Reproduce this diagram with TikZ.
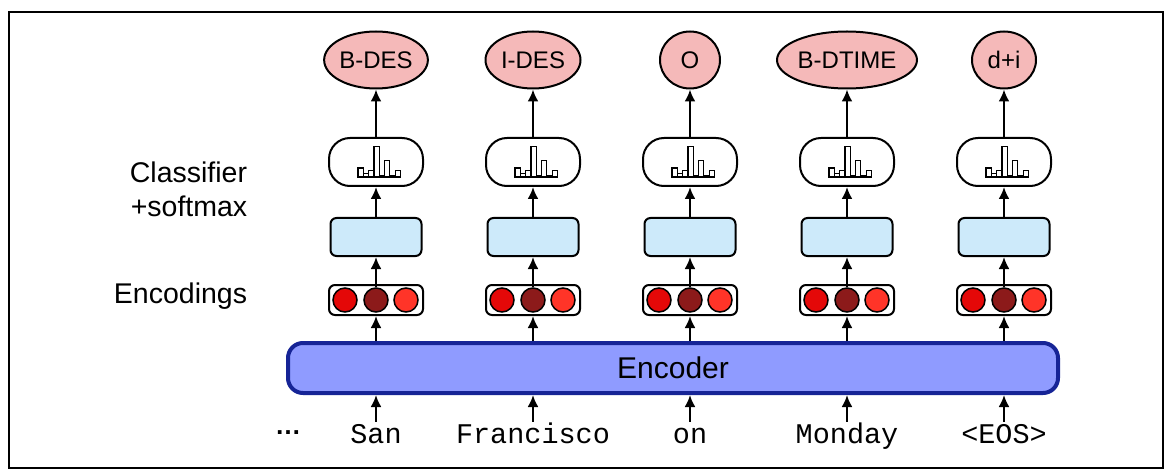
\documentclass[tikz,border=0pt]{standalone}
\usepackage{fontspec}
\setmainfont{Liberation Sans}
\setmonofont{Liberation Mono}
\usetikzlibrary{arrows.meta,shapes.geometric}
\definecolor{tagpink}{RGB}{245,185,185}
\definecolor{clsblue}{RGB}{205,234,250}
\definecolor{encfill}{RGB}{143,155,255}
\definecolor{encline}{RGB}{22,36,150}
\definecolor{dotA}{RGB}{228,8,8}
\definecolor{dotB}{RGB}{140,26,26}
\definecolor{dotC}{RGB}{255,52,40}
\tikzset{
  arr/.style={line width=2.2pt,-{Latex[length=12pt,width=11pt]}},
  tagnode/.style={ellipse,draw,line width=2pt,fill=tagpink,minimum height=57pt,inner sep=0pt,font=\fontsize{24}{28}\selectfont},
  pillnode/.style={draw,line width=2pt,fill=white,rounded corners=21pt,minimum width=94pt,minimum height=48pt,inner sep=0pt},
  clsnode/.style={draw,line width=2pt,fill=clsblue,rounded corners=6pt,minimum width=91pt,minimum height=38pt,inner sep=0pt},
  encbox/.style={draw,line width=2pt,fill=white,rounded corners=6pt,minimum width=94pt,minimum height=30pt,inner sep=0pt},
  dotnode/.style={circle,draw,line width=1.5pt,minimum size=24pt,inner sep=0pt},
  barline/.style={line width=1.2pt,fill=white},
  wordnode/.style={font=\ttfamily\fontsize{28.5}{30}\selectfont,anchor=base,inner sep=0pt,text height=21pt,text depth=6pt},
  sidelabel/.style={font=\fontsize{28.5}{32}\selectfont,anchor=base,inner sep=0pt},
  encodernode/.style={draw=encline,line width=4pt,fill=encfill,rounded corners=15pt,minimum width=770pt,minimum height=50pt,inner sep=0pt,font=\fontsize{30}{34}\selectfont}
}
\begin{document}
\begin{tikzpicture}[x=1pt,y=-1pt]
\useasboundingbox (0,0) rectangle (1170,473);
\draw[line width=2pt] (9,12) rectangle (1163,468);

\node[encodernode] (encoder) at (673,368) {Encoder};

\node[sidelabel] (lcls) at (188.5,183) {Classifier};
\node[sidelabel] (lsoft) at (189,217) {+softmax};
\node[sidelabel] (lenc) at (180.5,303) {Encodings};
\node[font=\fontsize{26}{28}\selectfont\bfseries,anchor=base,inner sep=0pt] (dots) at (288,434) {\textellipsis};

\foreach \i/\x/\lab/\w/\word in {1/376/B-DES/95/San,2/533/I-DES/95/Francisco,3/690/O/60/on,4/847/B-DTIME/140/Monday,5/1004/d+i/64/{<EOS>}}{
  \node[tagnode,minimum width=\w pt] (t\i) at (\x,60) {\lab};
  \node[pillnode] (p\i) at (\x,162) {};
  \foreach \k/\h in {0/9,1/3.5,2/6.7,3/30.7,4/1.8,5/16.5,6/1.8,7/6.5}{
    \draw[barline] ({\x-18+\k*5.3},177) rectangle ++(5.3,-\h);
  }
  \node[clsnode] (b\i) at (\x,237) {};
  \node[encbox] (e\i) at (\x,300) {};
  \node[dotnode,fill=dotA] (da\i) at (\x-31,300) {};
  \node[dotnode,fill=dotB] (db\i) at (\x,300) {};
  \node[dotnode,fill=dotC] (dc\i) at (\x+30,300) {};
  \node[wordnode] (w\i) at (\x,443) {\word};
  \draw[arr] (w\i.north) -- (w\i.north |- encoder.south);
  \draw[arr] (e\i.south |- encoder.north) -- (e\i.south);
  \draw[arr] (db\i.north) -- (b\i.south);
  \draw[arr] (b\i.north) -- (p\i.south);
  \draw[arr] (p\i.north) -- (t\i.south);
}
\end{tikzpicture}
\end{document}
